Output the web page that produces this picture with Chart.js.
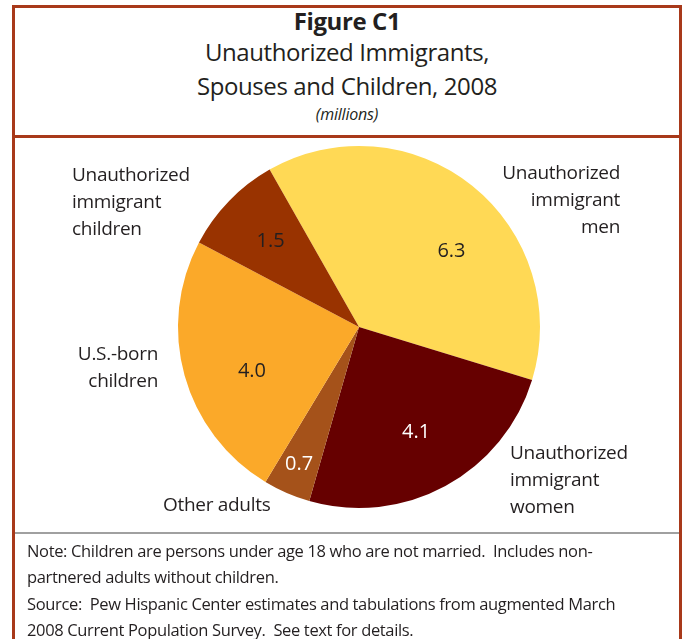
<!DOCTYPE html>
<html>
<head>
<meta charset="utf-8">
<script src="https://cdn.jsdelivr.net/npm/chart.js@4"></script>
<style>
  html, body { margin: 0; padding: 0; background: #fff; }
  body { width: 682px; height: 639px; position: relative; overflow: hidden; font-family: "Open Sans", sans-serif; color: #231f20; }
  #frame { position: absolute; left: 12px; top: 5px; width: 664px; height: 640px; border: 3px solid #a8391a; border-bottom: none; }
  #titlebox { position: absolute; left: 12px; top: 5px; width: 664px; height: 127px; border: 3px solid #a8391a; }
  #sep { position: absolute; left: 15px; top: 532px; width: 664px; height: 2px; background: #a0a0a0; }
  .t { position: absolute; left: 15px; width: 664px; text-align: center; white-space: nowrap; letter-spacing: -0.4px; }
  .lab { position: absolute; font-size: 19px; line-height: 27px; white-space: nowrap; letter-spacing: -0.3px; }
  .note { position: absolute; left: 27px; font-size: 16.5px; line-height: 26px; white-space: nowrap; letter-spacing: -0.35px; }
  #c { position: absolute; left: 0; top: 0; }
</style>
</head>
<body>
<div id="frame"></div>
<div id="titlebox"></div>
<div id="sep"></div>
<div class="t" style="top:4px;font-size:24px;font-weight:bold;">Figure C1</div>
<div class="t" style="top:35px;font-size:24px;">Unauthorized Immigrants,</div>
<div class="t" style="top:69px;font-size:24px;">Spouses and Children, 2008</div>
<div class="t" style="top:103px;font-size:16px;font-style:italic;letter-spacing:-0.2px;">(millions)</div>

<canvas id="c" width="682" height="639"></canvas>

<div class="lab" style="left:72px;top:161px;">Unauthorized<br>immigrant<br>children</div>
<div class="lab" style="right:62px;top:159px;text-align:right;">Unauthorized<br>immigrant<br>men</div>
<div class="lab" style="right:524px;top:340px;text-align:right;">U.S.-born<br>children</div>
<div class="lab" style="left:163px;top:491px;">Other adults</div>
<div class="lab" style="left:510px;top:439px;">Unauthorized<br>immigrant<br>women</div>

<div class="note" style="top:538px;">Note: Children are persons under age 18 who are not married.&nbsp; Includes non-<br>partnered adults without children.</div>
<div class="note" style="top:591px;">Source:&nbsp; Pew Hispanic Center estimates and tabulations from augmented March<br>2008 Current Population Survey.&nbsp; See text for details.</div>

<script>
const categories = ["Unauthorized immigrant men", "Unauthorized immigrant women", "Other adults", "U.S.-born children", "Unauthorized immigrant children"];
const values = [6.3, 4.1, 0.7, 4.0, 1.5];
const sliceColors = ["#ffd955", "#660000", "#a5521a", "#fba929", "#993300"];
const valueTextColors = ["#231f20", "#ffffff", "#ffffff", "#231f20", "#231f20"];
const labelRadius = [0.66, 0.66, 0.83, 0.64, 0.68];
const labelShiftDeg = [12, 0, 0, -7, 0];

// draws the numbers inside each slice
const valueLabels = {
  id: "valueLabels",
  afterDatasetsDraw(chart) {
    const ctx = chart.ctx;
    const meta = chart.getDatasetMeta(0);
    ctx.save();
    ctx.font = "20px 'Open Sans', sans-serif";
    ctx.textAlign = "center";
    ctx.textBaseline = "middle";
    meta.data.forEach((arc, i) => {
      const p = arc.getProps(["x", "y", "startAngle", "endAngle", "outerRadius"], true);
      const mid = (p.startAngle + p.endAngle) / 2 + labelShiftDeg[i] * Math.PI / 180;
      const r = p.outerRadius * labelRadius[i];
      ctx.fillStyle = valueTextColors[i];
      ctx.fillText(values[i].toFixed(1), p.x + Math.cos(mid) * r, p.y + Math.sin(mid) * r);
    });
    ctx.restore();
  }
};

new Chart(document.getElementById("c"), {
  type: "pie",
  data: {
    labels: categories,
    datasets: [{
      data: values,
      backgroundColor: sliceColors,
      borderWidth: 0
    }]
  },
  options: {
    responsive: false,
    animation: false,
    rotation: -29.6,
    radius: 181,
    layout: { padding: { left: 36, top: 15 } },
    plugins: {
      legend: { display: false },
      tooltip: { enabled: false }
    }
  },
  plugins: [valueLabels]
});
</script>
</body>
</html>
